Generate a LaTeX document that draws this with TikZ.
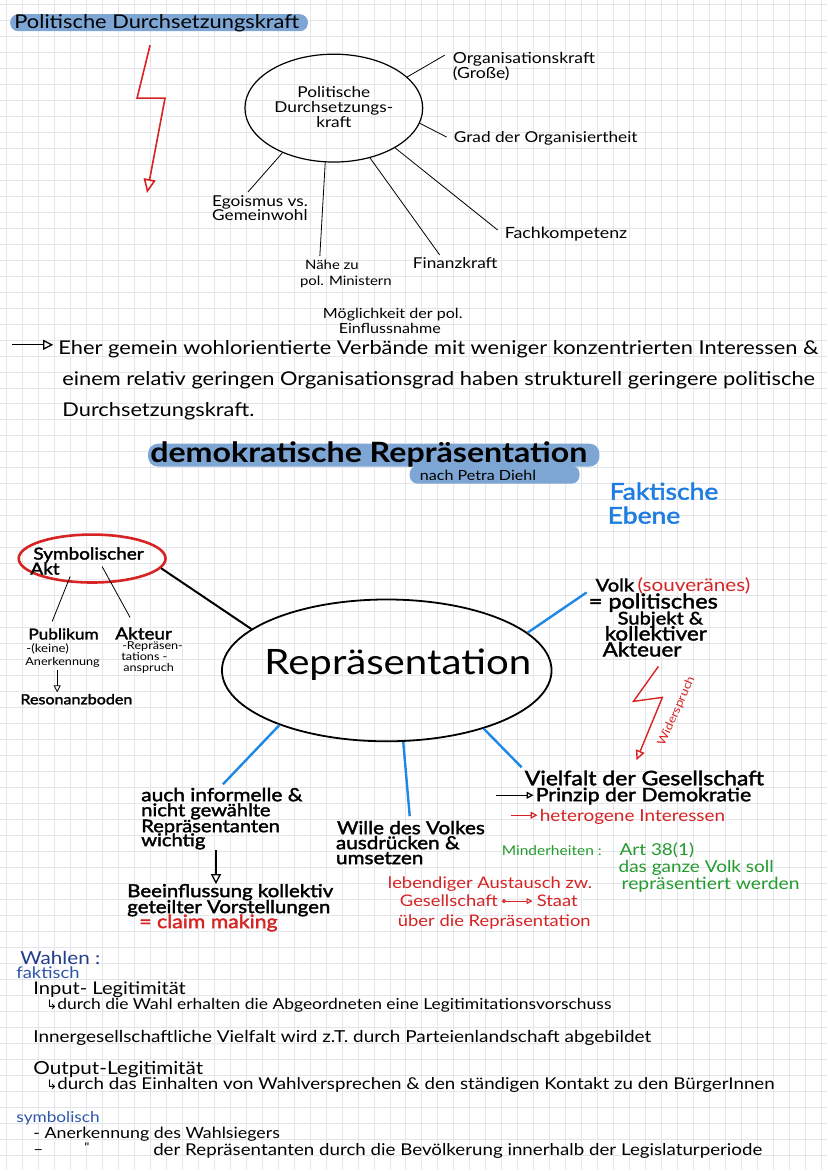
\documentclass[tikz,border=0pt]{standalone}
\usepackage{fontspec}
\setmainfont[FakeStretch=1.15]{Lato}
\newfontfamily\thickf[FakeBold=2,FakeStretch=1.15]{Lato}
\newfontfamily\symf{DejaVu Sans}
\usetikzlibrary{arrows.meta,shapes.geometric,calc}
\definecolor{hl}{RGB}{125,166,212}
\definecolor{spoke}{RGB}{30,136,229}
\definecolor{fblue}{RGB}{30,125,225}
\definecolor{hred}{RGB}{215,35,35}
\definecolor{hgreen}{RGB}{35,155,45}
\definecolor{dblue}{RGB}{35,60,140}
\definecolor{mblue}{RGB}{45,85,170}
\definecolor{gridc}{RGB}{228,230,234}
\newcommand\fsz[1]{\fontsize{#1}{#1}\selectfont}
\begin{document}
\begin{tikzpicture}[x=1pt,y=-1pt,
 txt/.style={inner sep=0pt, anchor=base west},
 ctxt/.style={inner sep=0pt, anchor=base},
 conn/.style={line width=0.8pt, black},
 bspoke/.style={line width=2.4pt, spoke},
 opentip/.style={-{Triangle[open,length=7pt,width=7pt]}},
 midtip/.style={-{Triangle[open,length=10pt,width=10pt]}},
 bigtip/.style={-{Triangle[open,length=14pt,width=12pt]}},
 tk/.style={font=\thickf\fsz{#1}},
 tn/.style={font=\fsz{#1}}
]
\fill[white] (0,0) rectangle (828,1171);
\foreach \i in {0,...,51} \draw[gridc, line width=0.5pt] (\i*16+6,0) -- (\i*16+6,1171);
\foreach \j in {0,...,73} \draw[gridc, line width=0.5pt] (0,\j*16+4) -- (828,\j*16+4);
\useasboundingbox (0,0) rectangle (828,1171);

% ---------- top section
\fill[hl, rounded corners=8pt] (10,14) rectangle (308,31);
\node[txt, tn=19] (t1) at (14,28) {Politische Durchsetzungskraft};

\coordinate (b1) at (150,45);
\coordinate (b2) at (137,98);
\coordinate (b3) at (165,98);
\coordinate (b4) at (147,193);
\draw[hred, line width=1.6pt, bigtip] (b1) -- (b2) -- (b3) -- (b4);

\node[ellipse, draw, line width=1.2pt, minimum width=178pt, minimum height=108pt, inner sep=0pt] (E1) at (334,108) {};
\node[ctxt, tn=15] (e1a) at (334,97) {Politische};
\node[ctxt, tn=15] (e1b) at (334,112) {Durchsetzungs-};
\node[ctxt, tn=15] (e1c) at (334,127) {kraft};

\node[txt, tn=15.3] (org1) at (453,63) {Organisationskraft};
\node[txt, tn=15.3] (org2) at (453,78) {(Große)};
\node[txt, tn=15] (grad) at (454,142) {Grad der Organisiertheit};
\node[txt, tn=15.5] (fach) at (505,239) {Fachkompetenz};
\node[txt, tn=15] (fin) at (413,269) {Finanzkraft};
\node[txt, tn=13] (nah1) at (305,270) {Nähe zu};
\node[txt, tn=13] (nah2) at (300,286) {pol. Ministern};
\node[txt, tn=15] (ego1) at (212,207) {Egoismus vs.};
\node[txt, tn=15] (ego2) at (212,221) {Gemeinwohl};

\coordinate (s1) at (445,55);
\coordinate (s2) at (447,137);
\coordinate (s3) at (498,230);
\coordinate (s4) at (440,255);
\coordinate (s5) at (320,256);
\coordinate (s6) at (248,192);
\draw[conn] (E1.23) -- (s1);
\draw[conn] (E1.-10) -- (s2);
\draw[conn] (E1.-33) -- (s3);
\draw[conn] (E1.-54) -- (s4);
\draw[conn] (E1.-99) -- (s5);
\draw[conn] (E1.-139) -- (s6);

\node[ctxt, tn=14] (mog1) at (393,319) {Möglichkeit der pol.};
\node[ctxt, tn=14] (mog2) at (390,334) {Einflussnahme};

\coordinate (pa1) at (12,345);
\node[txt, tn=19] (p1) at (58,355) {Eher gemein wohlorientierte Verbände mit weniger konzentrierten Interessen \&};
\node[txt, tn=19] (p2) at (62,386) {einem relativ geringen Organisationsgrad haben strukturell geringere politische};
\node[txt, tn=19] (p3) at (62,417) {Durchsetzungskraft.};
\draw[line width=1.3pt, midtip] (pa1) -- ([xshift=-5pt,yshift=10pt]p1.base west);

% ---------- middle section
\fill[hl, rounded corners=10pt] (148,444) rectangle (600,467);
\fill[hl, rounded corners=8pt] (410,466) rectangle (580,484);
\node[txt, font=\bfseries\fsz{28}] (tit) at (150,463) {demokratische Repräsentation};
\node[txt, tn=14] (tit2) at (420,481) {nach Petra Diehl};

\node[txt, font=\thickf\fsz{23}, text=fblue] (fak1) at (610,500) {Faktische};
\node[txt, font=\thickf\fsz{23}, text=fblue] (fak2) at (608,524) {Ebene};

\node[ellipse, draw=hred, line width=2.6pt, minimum width=147pt, minimum height=48pt, inner sep=0pt] (SA) at (92,559) {};
\node[txt, tk=16.5] (sa1) at (33,560) {Symbolischer};
\node[txt, tk=16.5] (sa2) at (30,575) {Akt};

\node[ellipse, draw, line width=1.8pt, minimum width=330pt, minimum height=142pt, inner sep=0pt] (E2) at (387,671) {};
\node[ctxt, tn=35] (rep) at (398,675) {Repräsentation};

\draw[line width=2pt] (SA.-8) -- (E2.163);

\coordinate (sa1e) at (70,577);
\coordinate (pu) at (52,622);
\coordinate (sa2e) at (102,567);
\coordinate (ak) at (130,618);
\draw[conn] (sa1e) -- (pu);
\draw[conn] (sa2e) -- (ak);

\node[txt, tk=15] (pub) at (28,640) {Publikum};
\node[txt, tn=11.5] (pub2) at (26,653) {-(keine)};
\node[txt, tn=11] (pub3) at (25,666) {Anerkennung};
\node[txt, tk=16.5] (akt) at (115,640) {Akteur};
\node[txt, tn=11] (akt2) at (122,650) {-Repräsen-};
\node[txt, tn=11] (akt3) at (121,661) {tations -};
\node[txt, tn=11] (akt4) at (123,672) {anspruch};
\node[txt, tk=14] (res) at (20,705) {Resonanzboden};
\coordinate (ra) at (57,671);
\draw[conn, opentip] (ra) -- ([yshift=12pt]res.base west -| ra);

% Volk
\coordinate (vk) at (587,593);
\draw[bspoke] (E2.15) -- (vk);
\node[txt, tk=17.5] (volk) at (596,592) {Volk};
\node[txt, tn=18, text=hred] (souv) at ([xshift=3pt]volk.base east) {(souveränes)};
\node[txt, tk=20.5] (vk2) at (589,609) {= politisches};
\node[txt, tk=17.5] (vk3) at (618,625) {Subjekt \&};
\node[txt, tk=19.5] (vk4) at (605,641) {kollektiver};
\node[txt, tk=19.5] (vk5) at (603,657) {Akteuer};

\coordinate (w1) at (659,667);
\coordinate (w2) at (634,702);
\coordinate (w3) at (663,698);
\coordinate (w4) at (637,761);
\draw[hred, line width=1.4pt, -{Triangle[open,length=10pt,width=9pt]}] (w1) -- (w2) -- (w3) -- (w4);
\node[tn=11.5, text=hred, rotate=66, inner sep=0pt] (wid) at (677,712) {Widerspruch};

% Vielfalt
\coordinate (vf) at (522,768);
\draw[bspoke] (E2.-31) -- (vf);
\node[txt, tk=20] (vie) at (525,786) {Vielfalt der Gesellschaft};
\node[txt, tk=18.5] (pri) at (536,802) {Prinzip der Demokratie};
\coordinate (pra) at (496,796);
\draw[line width=1.3pt, opentip] (pra) -- ([xshift=-2pt,yshift=6pt]pri.base west);
\node[txt, tn=16.5, text=hred] (het) at (540,822) {heterogene Interessen};
\coordinate (hea) at (511,816);
\draw[hred, line width=1.2pt, opentip] (hea) -- ([xshift=-2pt,yshift=6pt]het.base west);

\node[txt, tn=13.5, text=hgreen] (min) at (502,856) {Minderheiten :};
\node[txt, tn=16.5, text=hgreen] (art) at (620,856) {Art 38(1)};
\node[txt, tn=16.5, text=hgreen] (gv1) at (619,873) {das ganze Volk soll};
\node[txt, tn=16.8, text=hgreen] (gv2) at (622,890) {repräsentiert werden};

% auch informelle
\coordinate (au) at (223,785);
\draw[bspoke] (E2.207) -- (au);
\node[txt, tk=18.2] (ai1) at (141,802) {auch informelle \&};
\node[txt, tk=17.5] (ai2) at (141,817) {nicht gewählte};
\node[txt, tk=17.5] (ai3) at (141,833) {Repräsentanten};
\node[txt, tk=17.5] (ai4) at (141,847) {wichtig};
\node[txt, tk=17.8] (be1) at (127,898) {Beeinflussung kollektiv};
\node[txt, tk=17.8] (be2) at (127,914) {geteilter Vorstellungen};
\node[txt, tk=18.5, text=hred] (be3) at (139,929) {= claim making};
\coordinate (aia) at (216,851);
\draw[line width=1.3pt, midtip] (aia) -- ([yshift=13pt]be1.base west -| aia);

% Wille
\coordinate (wi) at (410,817);
\draw[bspoke] (E2.-77) -- (wi);
\node[txt, tk=18] (wv1) at (337,835) {Wille des Volkes};
\node[txt, tk=18] (wv2) at (336,850) {ausdrücken \&};
\node[txt, tk=18] (wv3) at (336,865) {umsetzen};

\node[txt, tn=16, text=hred] (le1) at (388,889) {lebendiger Austausch zw.};
\node[txt, tn=16, text=hred] (le2) at (400,907) {Gesellschaft};
\node[txt, tn=16, text=hred] (le3) at (537,907) {Staat};
\draw[hred, line width=1.1pt, {Circle[open,length=4pt]}-{Triangle[open,length=6pt,width=6pt]}] ([xshift=4pt,yshift=5pt]le2.base east) -- ([xshift=-4pt,yshift=5pt]le3.base west);
\node[txt, tn=16, text=hred] (le4) at (398,927) {über die Repräsentation};

% ---------- bottom section
\node[txt, tn=18, text=dblue] (wah) at (20,965) {Wahlen :};
\node[txt, tn=16, text=mblue] (fk) at (16,979) {faktisch};
\node[txt, tn=17.5] (in1) at (33,996) {Input- Legitimität};
\node[txt, tn=15.2] (in2) at (46,1011) {{\symf\fsz{13}↳}durch die Wahl erhalten die Abgeordneten eine  Legitimitationsvorschuss};
\node[txt, tn=16.5] (ig) at (33,1044) {Innergesellschaftliche  Vielfalt wird z.T. durch Parteienlandschaft abgebildet};
\node[txt, tn=18] (ou1) at (33,1076) {Output-Legitimität};
\node[txt, tn=16.3] (ou2) at (46,1091) {{\symf\fsz{13}↳}durch das Einhalten von Wahlversprechen \& den ständigen Kontakt zu den BürgerInnen};
\node[txt, tn=15, text=mblue] (sy) at (16,1124) {symbolisch};
\node[txt, tn=15.5] (sy1) at (33,1140) {- Anerkennung des Wahlsiegers};
\node[txt, tn=15] (sy2a) at (33,1156) {–};
\node[txt, tn=12] (sy2b) at (84,1153) {\textquotedbl};
\node[txt, tn=16.3] (sy2c) at (153,1157) {der Repräsentanten durch die Bevölkerung innerhalb der Legislaturperiode};
\end{tikzpicture}
\end{document}
